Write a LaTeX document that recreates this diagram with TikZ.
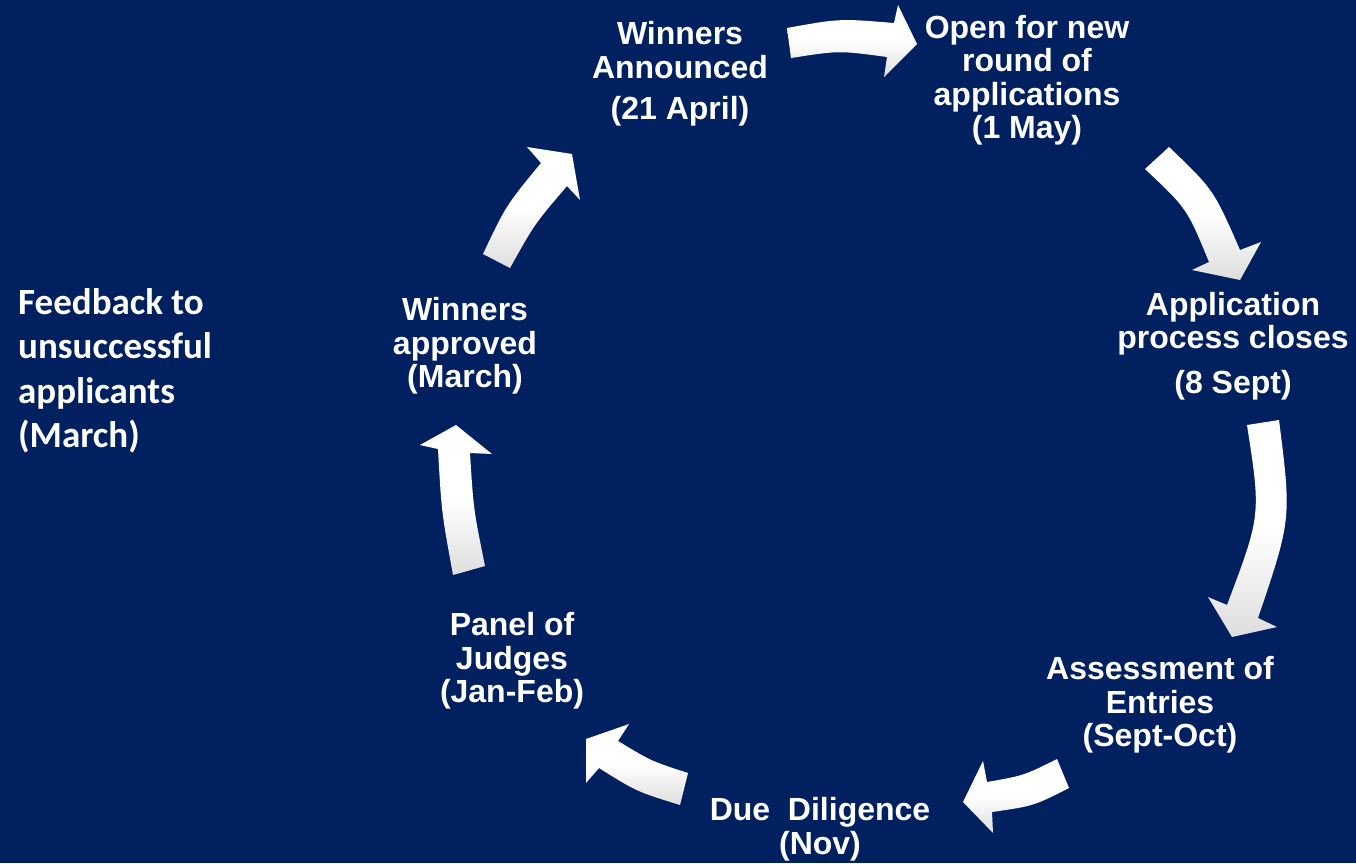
\documentclass[tikz,border=0pt]{standalone}
\usepackage{fontspec}
\newfontfamily\arialf{Liberation Sans}
\newfontfamily\calf{Carlito}
\definecolor{bgblue}{RGB}{0,32,96}
\definecolor{arrgray}{RGB}{222,222,222}
\begin{document}
\begin{tikzpicture}[x=1pt,y=-1pt,
  arr/.style={top color=white, bottom color=arrgray, middle color=white, draw=none},
  lbl/.style={text=white, align=center, inner sep=0pt,
    font=\arialf\bfseries\fontsize{32}{33.5}\selectfont},
  fb/.style={text=white, align=left, inner sep=0pt,
    font=\calf\bfseries\fontsize{37}{44.5}\selectfont}]
\fill[bgblue] (0,0) rectangle (1356,863);
\useasboundingbox (0,0) rectangle (1356,863);

% arrows
\path[arr] (787,28) .. controls (839.5,18.5) .. (894,23) -- (898,5) -- (917,44) -- (884,77) -- (887,57) .. controls (839,50.5) .. (791,58) -- cycle;
\path[arr] (1145,169) -- (1169,147) .. controls (1213.5,189.5) .. (1240,250) -- (1261,242) -- (1240,280) -- (1192,270) -- (1209,262) .. controls (1187,208.5) .. (1145,169) -- cycle;
\path[arr] (1247,425) -- (1279,420) .. controls (1291.5,519) .. (1258,618) -- (1277,627) -- (1232,637) -- (1208,597) -- (1227,605) .. controls (1261,515) .. (1247,425) -- cycle;
\path[arr] (1057,759) .. controls (1024,775.5) .. (987,782) -- (983,761) -- (963,802) -- (993,833) -- (992,812) .. controls (1033.5,806) .. (1069,788) -- cycle;
\path[arr] (688,773) .. controls (651,761) .. (618,741) -- (629,724) -- (586,739) -- (586,783) -- (599,768) .. controls (636.5,791.5) .. (680,805) -- cycle;
\path[arr] (453,575) .. controls (441.5,512) .. (438,449) -- (420,445) -- (456,425) -- (492,454) -- (470,453) .. controls (473.5,509.5) .. (485,566) -- cycle;
\path[arr] (483,254) .. controls (506,205.5) .. (541,163) -- (527,147) -- (572,154) -- (580,200) -- (567,186) .. controls (534.5,224) .. (510,268) -- cycle;

% labels
\node[lbl] (ann) at (680,74) {Winners\\Announced\\[8pt](21 April)};
\node[lbl] (open) at (1027,80) {Open for new\\round of\\applications\\(1 May)};
\node[lbl] (close) at (1233,346) {Application\\process closes\\[11pt](8 Sept)};
\node[lbl] (assess) at (1160,705) {Assessment of\\Entries\\(Sept-Oct)};
\node[lbl] (due) at (820,829) {Due\ \ Diligence\\(Nov)};
\node[lbl] (panel) at (512,661) {Panel of\\Judges\\(Jan-Feb)};
\node[lbl] (appr) at (465,346) {Winners\\approved\\(March)};
\node[fb, anchor=west] (feed) at (18,371) {Feedback to\\unsuccessful\\applicants\\(March)};
\end{tikzpicture}
\end{document}
